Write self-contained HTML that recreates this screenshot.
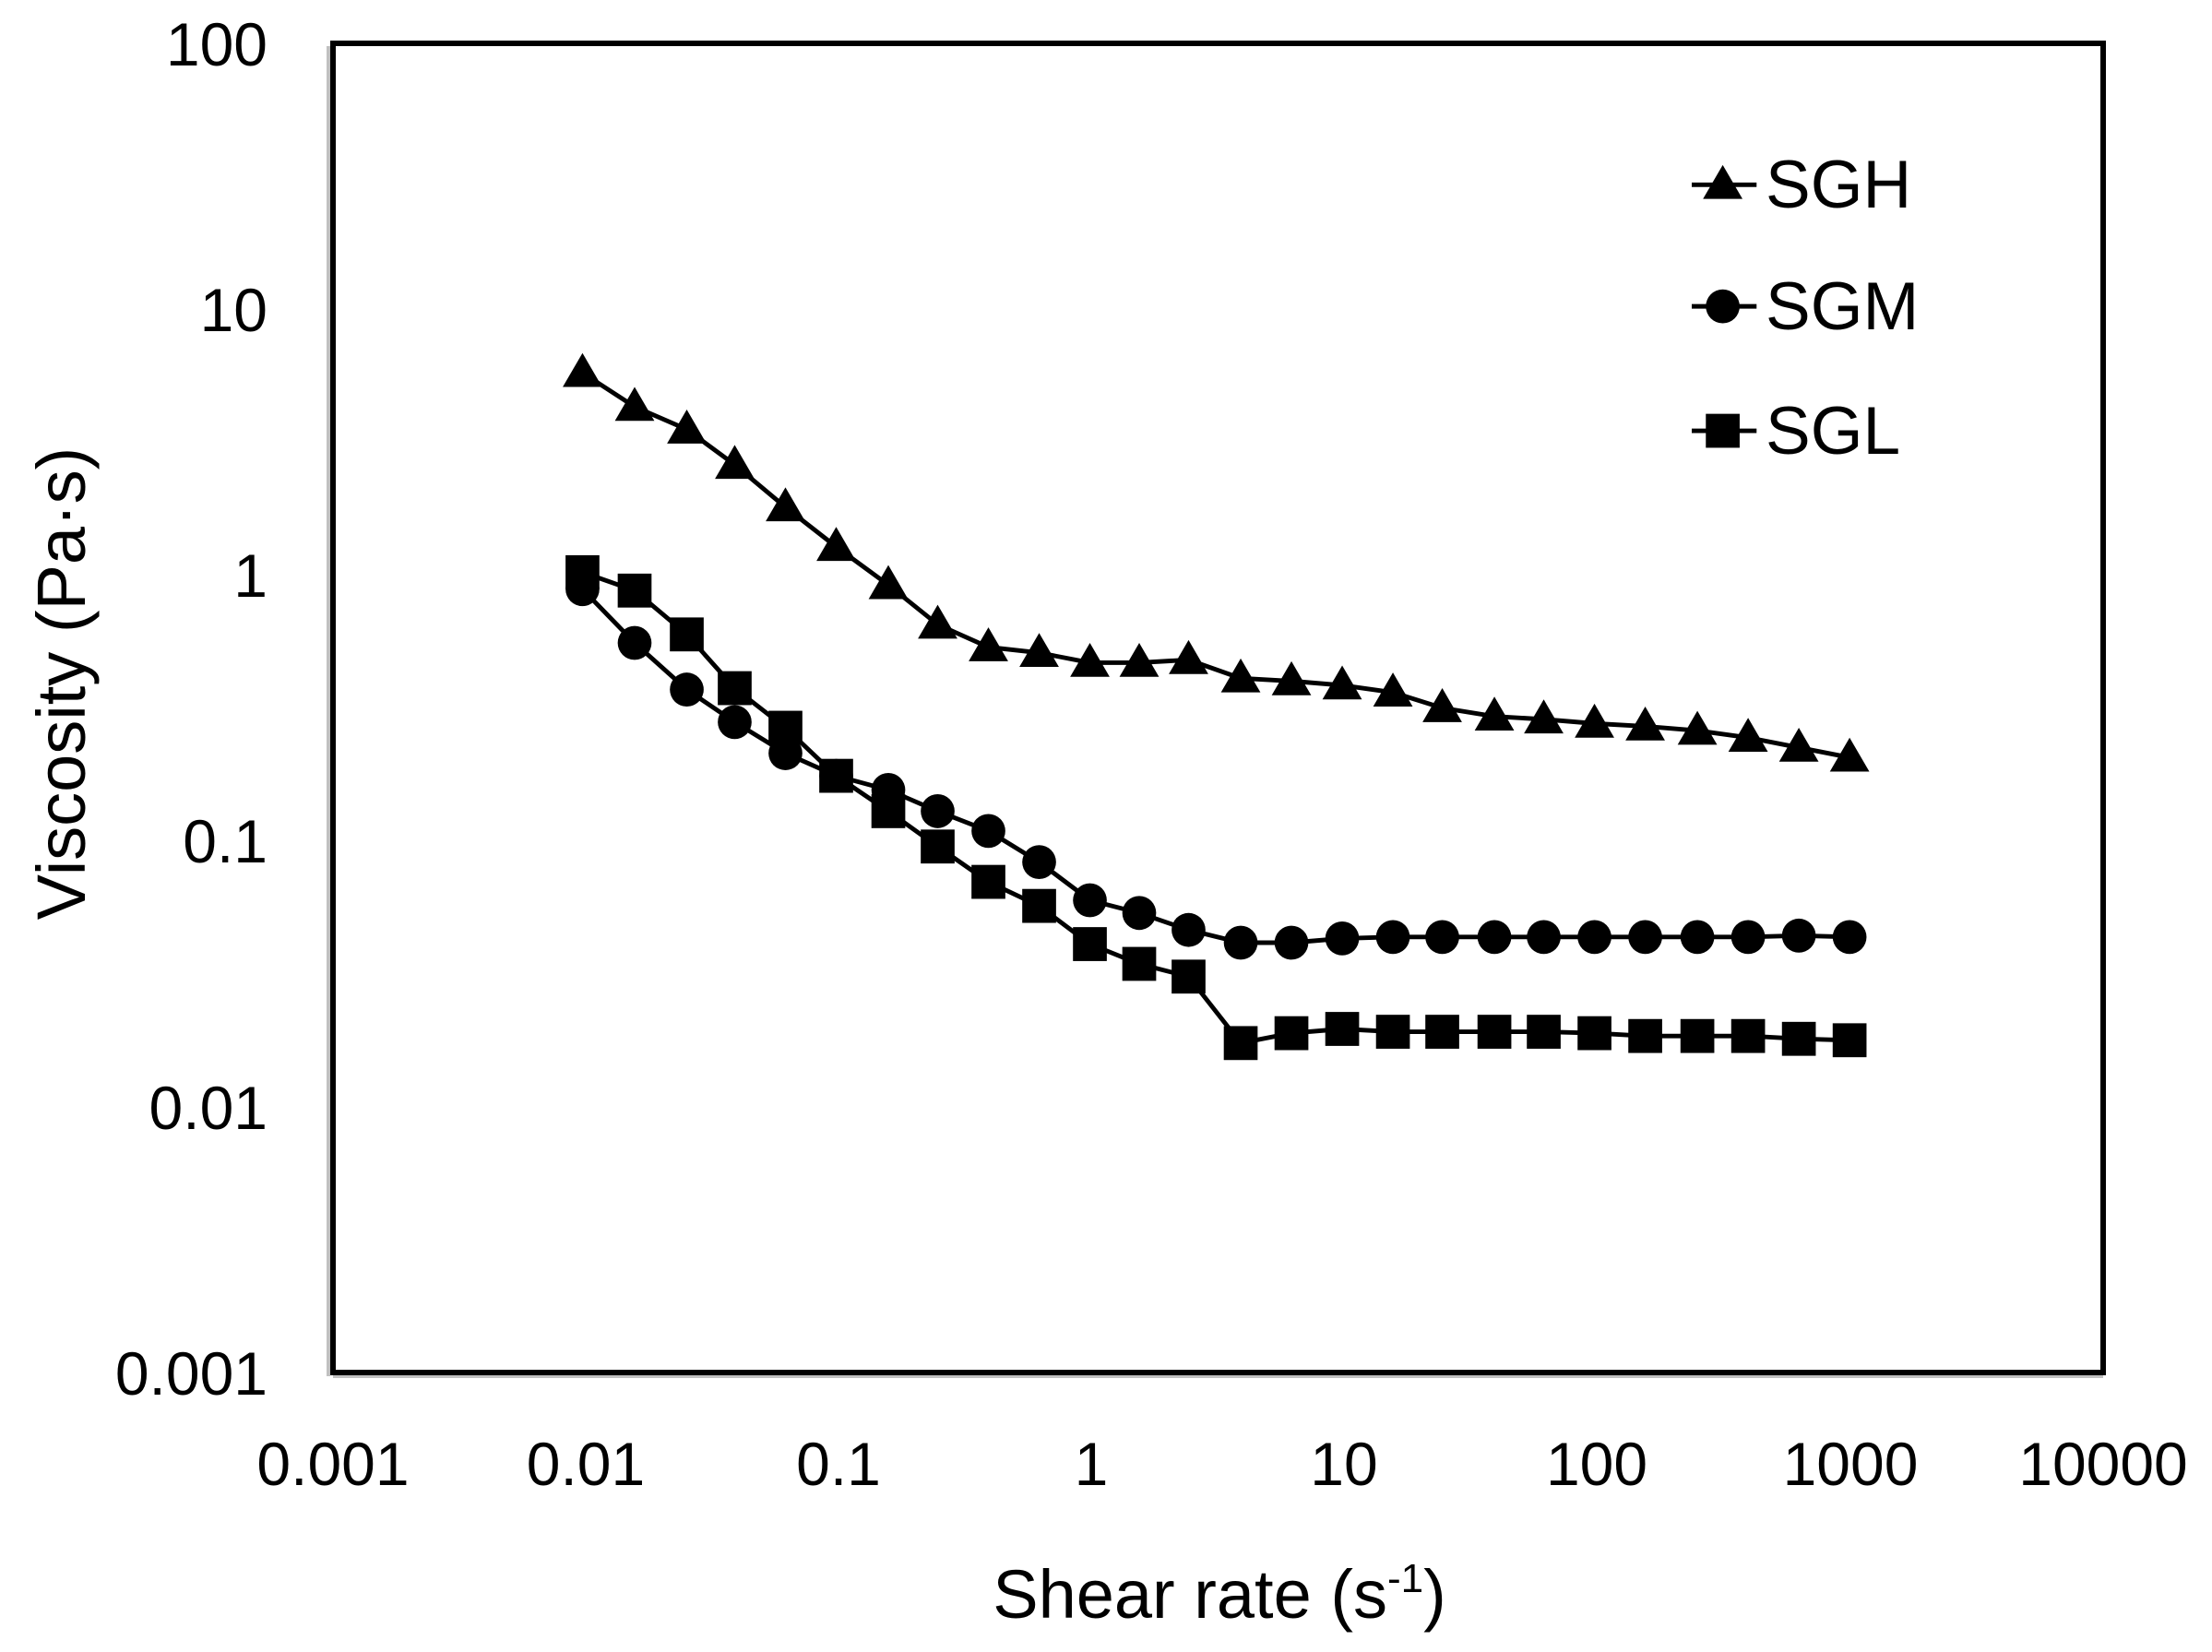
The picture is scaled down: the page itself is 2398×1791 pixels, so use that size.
<!DOCTYPE html>
<html><head><style>
html,body{margin:0;padding:0;background:#fff}
svg{display:block}
text{font-family:"Liberation Sans",Arial,sans-serif;fill:#000}
</style></head><body>
<svg width="2398" height="1791" viewBox="0 0 2398 1791" xmlns="http://www.w3.org/2000/svg">
<rect width="2398" height="1791" fill="#fff"/>
<line x1="356" y1="50" x2="356" y2="1492" stroke="#c0c0c0" stroke-width="4"/>
<line x1="361" y1="1492" x2="2280" y2="1492" stroke="#c0c0c0" stroke-width="4"/>
<rect x="361" y="47" width="1919" height="1441" fill="none" stroke="#000" stroke-width="6"/>
<g font-size="66" text-anchor="end">
<text x="290" y="71">100</text>
<text x="290" y="359">10</text>
<text x="290" y="647">1</text>
<text x="290" y="935">0.1</text>
<text x="290" y="1224">0.01</text>
<text x="290" y="1512">0.001</text>
</g>
<g font-size="66" text-anchor="middle">
<text x="361" y="1610">0.001</text>
<text x="635" y="1610">0.01</text>
<text x="909" y="1610">0.1</text>
<text x="1183" y="1610">1</text>
<text x="1457" y="1610">10</text>
<text x="1731" y="1610">100</text>
<text x="2006" y="1610">1000</text>
<text x="2280" y="1610">10000</text>
</g>
<text x="1322" y="1754" font-size="74" text-anchor="middle">Shear rate (s<tspan font-size="44" dy="-28">-1</tspan><tspan dy="28">)</tspan></text>
<text transform="translate(92,741) rotate(-90)" font-size="74" text-anchor="middle">Viscosity (Pa·s)</text>
<defs>
<path id="tri" d="M0,-14 L14,10 L-14,10 Z" fill="#000"/>
<circle id="cir" r="12" fill="#000"/>
<rect id="sq" x="-12" y="-12" width="24" height="24" fill="#000"/>
</defs>
<g transform="translate(361,47) scale(1.528,1.533) translate(-236,-30)">
<polyline fill="none" stroke="#000" stroke-width="3.2" points="413,263 450,287 487,303 521,328 557,358 593,386 630,413 665,441 701,457 737,461 773,468 808,468 843,466 880,479 916,481 952,484 988,489 1023,500 1060,506 1095,508 1131,511 1167,513 1204,516 1240,521 1276,528 1312,535"/>
<polyline fill="none" stroke="#000" stroke-width="3.2" points="413,416 450,454 487,487 521,510 557,532 593,548 630,558 665,573 701,587 737,609 773,636 808,645 843,657 880,666 916,666 952,663 988,662 1023,662 1060,662 1095,662 1131,662 1167,662 1204,662 1240,662 1276,661 1312,662"/>
<polyline fill="none" stroke="#000" stroke-width="3.2" points="413,404 450,417 487,448 521,486 557,514 593,548 630,573 665,598 701,623 737,640 773,667 808,681 843,690 880,737 916,730 952,727 988,729 1023,729 1060,729 1095,729 1131,730 1167,732 1204,732 1240,732 1276,734 1312,735"/>
<g>
<use href="#tri" x="413" y="263"/><use href="#tri" x="450" y="287"/><use href="#tri" x="487" y="303"/><use href="#tri" x="521" y="328"/><use href="#tri" x="557" y="358"/><use href="#tri" x="593" y="386"/><use href="#tri" x="630" y="413"/><use href="#tri" x="665" y="441"/><use href="#tri" x="701" y="457"/><use href="#tri" x="737" y="461"/><use href="#tri" x="773" y="468"/><use href="#tri" x="808" y="468"/><use href="#tri" x="843" y="466"/><use href="#tri" x="880" y="479"/><use href="#tri" x="916" y="481"/><use href="#tri" x="952" y="484"/><use href="#tri" x="988" y="489"/><use href="#tri" x="1023" y="500"/><use href="#tri" x="1060" y="506"/><use href="#tri" x="1095" y="508"/><use href="#tri" x="1131" y="511"/><use href="#tri" x="1167" y="513"/><use href="#tri" x="1204" y="516"/><use href="#tri" x="1240" y="521"/><use href="#tri" x="1276" y="528"/><use href="#tri" x="1312" y="535"/>
</g>
<g>
<use href="#sq" x="413" y="404"/><use href="#sq" x="450" y="417"/><use href="#sq" x="487" y="448"/><use href="#sq" x="521" y="486"/><use href="#sq" x="557" y="514"/><use href="#sq" x="593" y="548"/><use href="#sq" x="630" y="573"/><use href="#sq" x="665" y="598"/><use href="#sq" x="701" y="623"/><use href="#sq" x="737" y="640"/><use href="#sq" x="773" y="667"/><use href="#sq" x="808" y="681"/><use href="#sq" x="843" y="690"/><use href="#sq" x="880" y="737"/><use href="#sq" x="916" y="730"/><use href="#sq" x="952" y="727"/><use href="#sq" x="988" y="729"/><use href="#sq" x="1023" y="729"/><use href="#sq" x="1060" y="729"/><use href="#sq" x="1095" y="729"/><use href="#sq" x="1131" y="730"/><use href="#sq" x="1167" y="732"/><use href="#sq" x="1204" y="732"/><use href="#sq" x="1240" y="732"/><use href="#sq" x="1276" y="734"/><use href="#sq" x="1312" y="735"/>
</g>
<g>
<use href="#cir" x="413" y="416"/><use href="#cir" x="450" y="454"/><use href="#cir" x="487" y="487"/><use href="#cir" x="521" y="510"/><use href="#cir" x="557" y="532"/><use href="#cir" x="593" y="548"/><use href="#cir" x="630" y="558"/><use href="#cir" x="665" y="573"/><use href="#cir" x="701" y="587"/><use href="#cir" x="737" y="609"/><use href="#cir" x="773" y="636"/><use href="#cir" x="808" y="645"/><use href="#cir" x="843" y="657"/><use href="#cir" x="880" y="666"/><use href="#cir" x="916" y="666"/><use href="#cir" x="952" y="663"/><use href="#cir" x="988" y="662"/><use href="#cir" x="1023" y="662"/><use href="#cir" x="1060" y="662"/><use href="#cir" x="1095" y="662"/><use href="#cir" x="1131" y="662"/><use href="#cir" x="1167" y="662"/><use href="#cir" x="1204" y="662"/><use href="#cir" x="1240" y="662"/><use href="#cir" x="1276" y="661"/><use href="#cir" x="1312" y="662"/>
</g>
<line x1="1200" y1="130" x2="1246" y2="130" stroke="#000" stroke-width="3.2"/>
<use href="#tri" x="1222" y="130"/>
<line x1="1200" y1="216" x2="1246" y2="216" stroke="#000" stroke-width="3.2"/>
<use href="#cir" x="1222" y="216"/>
<line x1="1200" y1="304" x2="1246" y2="304" stroke="#000" stroke-width="3.2"/>
<use href="#sq" x="1222" y="304"/>
</g>
<g font-size="73">
<text x="1914" y="225">SGH</text>
<text x="1914" y="357">SGM</text>
<text x="1914" y="492">SGL</text>
</g>
</svg>
</body></html>
